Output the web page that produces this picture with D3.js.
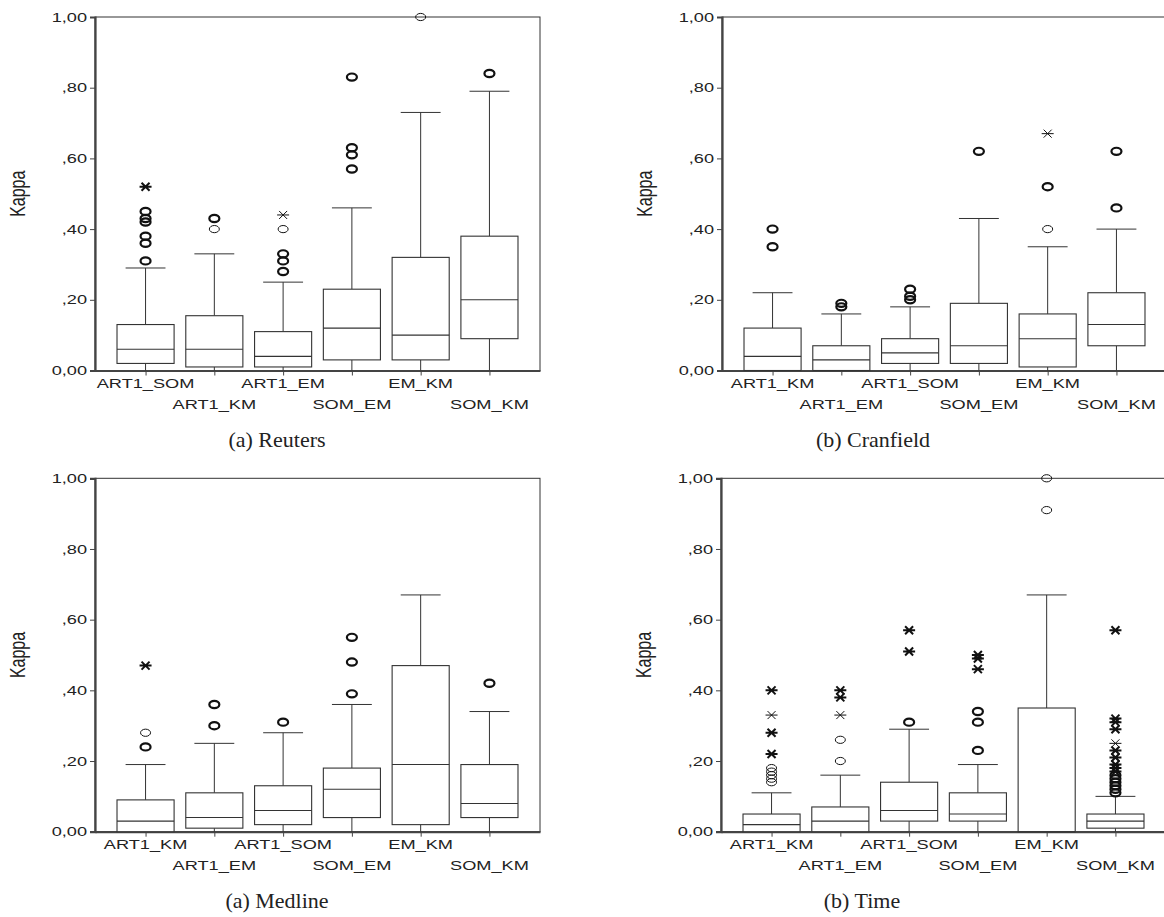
<!DOCTYPE html>
<head>
  <script src="https://d3js.org/d3.v7.min.js"></script>
  <meta charset='utf-8'>
  <style>
    body { margin: 0; background: #fff; }
    svg text { font-family: "Liberation Sans", Arial, Helvetica; fill: #222; }
    svg text.caption { font-family: "Liberation Serif", "Times New Roman", serif; }
  </style>
</head>
<body>
<div id="chart"></div>
<script>

// categories (order differs in the Reuters panel)
var catsReuters = ["ART1_SOM", "ART1_KM", "ART1_EM", "SOM_EM", "EM_KM", "SOM_KM"];
var catsOther = ["ART1_KM", "ART1_EM", "ART1_SOM", "SOM_EM", "EM_KM", "SOM_KM"];
var yTicks = [0, 0.2, 0.4, 0.6, 0.8, 1];
var yTickLabels = ["0,00", ",20", ",40", ",60", ",80", "1,00"];

// boxes: [lower whisker, Q1, median, Q3, upper whisker]
var reutersBoxes = [
  [0, 0.02, 0.06, 0.13, 0.29],
  [0, 0.01, 0.06, 0.155, 0.33],
  [0, 0.01, 0.04, 0.11, 0.25],
  [0, 0.03, 0.12, 0.23, 0.46],
  [0, 0.03, 0.10, 0.32, 0.73],
  [0, 0.09, 0.20, 0.38, 0.79]
];
// repeated values = several cases at the same kappa
var reutersOutliers = [
  [0.31, 0.31, 0.36, 0.36, 0.38, 0.38, 0.42, 0.42, 0.43, 0.43, 0.45, 0.45],
  [0.40, 0.43, 0.43],
  [0.28, 0.28, 0.31, 0.31, 0.33, 0.33, 0.40],
  [0.57, 0.57, 0.61, 0.61, 0.63, 0.63, 0.83, 0.83],
  [1.00],
  [0.84, 0.84]
];
var reutersExtremes = [[0.52, 0.52], [], [0.44], [], [], []];

var cranfieldBoxes = [
  [0, 0, 0.04, 0.12, 0.22],
  [0, 0, 0.03, 0.07, 0.16],
  [0, 0.02, 0.05, 0.09, 0.18],
  [0, 0.02, 0.07, 0.19, 0.43],
  [0, 0.01, 0.09, 0.16, 0.35],
  [0, 0.07, 0.13, 0.22, 0.40]
];
var cranfieldOutliers = [
  [0.35, 0.35, 0.40, 0.40],
  [0.18, 0.18, 0.19, 0.19],
  [0.20, 0.20, 0.21, 0.21, 0.23, 0.23],
  [0.62, 0.62],
  [0.40, 0.52, 0.52],
  [0.46, 0.46, 0.62, 0.62]
];
var cranfieldExtremes = [[], [], [], [], [0.67], []];

var medlineBoxes = [
  [0, 0, 0.03, 0.09, 0.19],
  [0, 0.01, 0.04, 0.11, 0.25],
  [0, 0.02, 0.06, 0.13, 0.28],
  [0, 0.04, 0.12, 0.18, 0.36],
  [0, 0.02, 0.19, 0.47, 0.67],
  [0, 0.04, 0.08, 0.19, 0.34]
];
var medlineOutliers = [
  [0.24, 0.24, 0.28],
  [0.30, 0.30, 0.36, 0.36],
  [0.31, 0.31],
  [0.39, 0.39, 0.48, 0.48, 0.55, 0.55],
  [],
  [0.42, 0.42]
];
var medlineExtremes = [[0.47, 0.47], [], [], [], [], []];

var timeBoxes = [
  [0, 0, 0.02, 0.05, 0.11],
  [0, 0, 0.03, 0.07, 0.16],
  [0, 0.03, 0.06, 0.14, 0.29],
  [0, 0.03, 0.05, 0.11, 0.19],
  [0, 0, 0, 0.35, 0.67],
  [0, 0.01, 0.03, 0.05, 0.10]
];
var timeOutliers = [
  [0.14, 0.15, 0.16, 0.17, 0.18],
  [0.20, 0.26],
  [0.31, 0.31],
  [0.23, 0.23, 0.31, 0.31, 0.34, 0.34],
  [0.91, 1.00],
  [0.11, 0.11, 0.12, 0.12, 0.13, 0.13, 0.14, 0.14, 0.15, 0.15, 0.16, 0.16]
];
var timeExtremes = [
  [0.22, 0.22, 0.28, 0.28, 0.33, 0.40, 0.40],
  [0.33, 0.38, 0.38, 0.40, 0.40],
  [0.51, 0.51, 0.57, 0.57],
  [0.46, 0.46, 0.49, 0.49, 0.50, 0.50],
  [],
  [0.17, 0.17, 0.18, 0.18, 0.19, 0.19, 0.21, 0.21, 0.23, 0.23, 0.25, 0.29, 0.29, 0.31, 0.31, 0.32, 0.32, 0.57, 0.57]
];

var panels = [
  {cats: catsReuters, boxes: reutersBoxes, outliers: reutersOutliers, extremes: reutersExtremes,
   caption: "(a) Reuters", x0: 95, x1: 540, top: 17, bottom: 370.5, capX: 277},
  {cats: catsOther, boxes: cranfieldBoxes, outliers: cranfieldOutliers, extremes: cranfieldExtremes,
   caption: "(b) Cranfield", x0: 722, x1: 1167, top: 17, bottom: 370.5, capX: 873},
  {cats: catsOther, boxes: medlineBoxes, outliers: medlineOutliers, extremes: medlineExtremes,
   caption: "(a) Medline", x0: 95, x1: 540, top: 478.3, bottom: 831.7, capX: 277},
  {cats: catsOther, boxes: timeBoxes, outliers: timeOutliers, extremes: timeExtremes,
   caption: "(b) Time", x0: 721, x1: 1166, top: 478.3, bottom: 831.7, capX: 862}
];

var sx = 1.4; // the source figure is stretched horizontally
var lineColor = "#333";

var svg = d3.select("#chart").append("svg")
    .attr("width", 1164)
    .attr("height", 917);

panels.forEach(function(p) {
  var g = svg.append("g");

  var x = d3.scalePoint()
    .domain(p.cats)
    .range([p.x0, p.x1])
    .padding(0.735);
  var y = d3.scaleLinear()
    .domain([0, 1])
    .range([p.bottom, p.top]);

  var step = x.step();
  var boxW = step * 0.83;
  var capW = step * 0.58;

  // frame
  g.append("rect")
    .attr("x", p.x0).attr("y", p.top)
    .attr("width", p.x1 - p.x0).attr("height", p.bottom - p.top)
    .attr("fill", "none").attr("stroke", lineColor).attr("stroke-width", 1);

  // y axis
  var yAxis = g.append("g")
    .attr("transform", `translate(${p.x0},0)`)
    .call(d3.axisLeft(y).tickValues(yTicks).tickSize(5)
      .tickFormat(function(d, i) { return yTickLabels[i]; }));
  yAxis.select(".domain").attr("stroke", "#444").attr("stroke-width", 2.2);
  yAxis.selectAll(".tick line").attr("stroke", "#444");
  yAxis.selectAll(".tick text")
    .attr("font-size", 13)
    .attr("font-family", "Liberation Sans, Arial")
    .attr("fill", "#222")
    .attr("x", -8 / sx)
    .attr("transform", `scale(${sx},1)`);

  // x axis
  var xAxis = g.append("g")
    .attr("transform", `translate(0,${p.bottom})`)
    .call(d3.axisBottom(x).tickSize(5).tickSizeOuter(0).tickFormat(""));
  xAxis.select(".domain").attr("stroke", "#444").attr("stroke-width", 2.2);
  xAxis.selectAll(".tick line").attr("stroke", "#444");

  // category labels on two alternating rows
  g.selectAll(".cat")
    .data(p.cats)
    .join("text")
      .attr("class", "cat")
      .attr("font-size", 13)
      .attr("text-anchor", "middle")
      .attr("transform", function(d, i) {
        return `translate(${x(d)},${p.bottom + (i % 2 ? 38 : 17)}) scale(${sx},1)`;
      })
      .text(function(d) { return d; });

  // y label
  g.append("text")
    .attr("font-size", 16)
    .attr("text-anchor", "middle")
    .attr("transform", `translate(${p.x0 - 70},${(p.top + p.bottom) / 2}) scale(${sx},1) rotate(-90)`)
    .text("Kappa");

  // caption
  g.append("text")
    .attr("class", "caption")
    .attr("font-size", 22)
    .attr("text-anchor", "middle")
    .attr("x", p.capX)
    .attr("y", p.bottom + 76)
    .text(p.caption);

  var boxes = g.selectAll(".box")
    .data(p.boxes)
    .join("g")
      .attr("class", "box")
      .attr("transform", function(d, i) { return `translate(${x(p.cats[i])},0)`; });

  // whiskers
  boxes.append("line")
    .attr("y1", function(d) { return y(d[3]); })
    .attr("y2", function(d) { return y(d[4]); })
    .attr("stroke", lineColor);
  boxes.append("line")
    .attr("x1", -capW / 2).attr("x2", capW / 2)
    .attr("y1", function(d) { return y(d[4]); })
    .attr("y2", function(d) { return y(d[4]); })
    .attr("stroke", lineColor);
  boxes.append("line")
    .attr("y1", function(d) { return y(d[1]); })
    .attr("y2", function(d) { return y(d[0]); })
    .attr("stroke", lineColor);

  // box + median
  boxes.append("rect")
    .attr("x", -boxW / 2).attr("width", boxW)
    .attr("y", function(d) { return y(d[3]); })
    .attr("height", function(d) { return y(d[1]) - y(d[3]); })
    .attr("fill", "white")
    .attr("stroke", lineColor)
    .attr("stroke-width", 1.1);
  boxes.append("line")
    .attr("x1", -boxW / 2).attr("x2", boxW / 2)
    .attr("y1", function(d) { return y(d[2]); })
    .attr("y2", function(d) { return y(d[2]); })
    .attr("stroke", lineColor)
    .attr("stroke-width", 1.1);

  // outliers (circles) and extremes (asterisks)
  p.cats.forEach(function(c, i) {
    var oc = Array.from(d3.rollup(p.outliers[i], function(v) { return v.length; }, function(d) { return d; }));
    g.selectAll(null)
      .data(oc)
      .join("ellipse")
        .attr("cx", x(c))
        .attr("cy", function(d) { return y(d[0]); })
        .attr("rx", 5).attr("ry", 3.6)
        .attr("fill", "none")
        .attr("stroke", "#111")
        .attr("stroke-width", function(d) { return d[1] > 1 ? 2.2 : 1; });

    var ec = Array.from(d3.rollup(p.extremes[i], function(v) { return v.length; }, function(d) { return d; }));
    g.selectAll(null)
      .data(ec)
      .join("path")
        .attr("transform", function(d) { return `translate(${x(c)},${y(d[0])})`; })
        .attr("d", "M-6,0H6M-4,-4L4,4M-4,4L4,-4")
        .attr("fill", "none")
        .attr("stroke", "#111")
        .attr("stroke-width", function(d) { return d[1] > 1 ? 2 : 1; });
  });
});

</script>
</body>
